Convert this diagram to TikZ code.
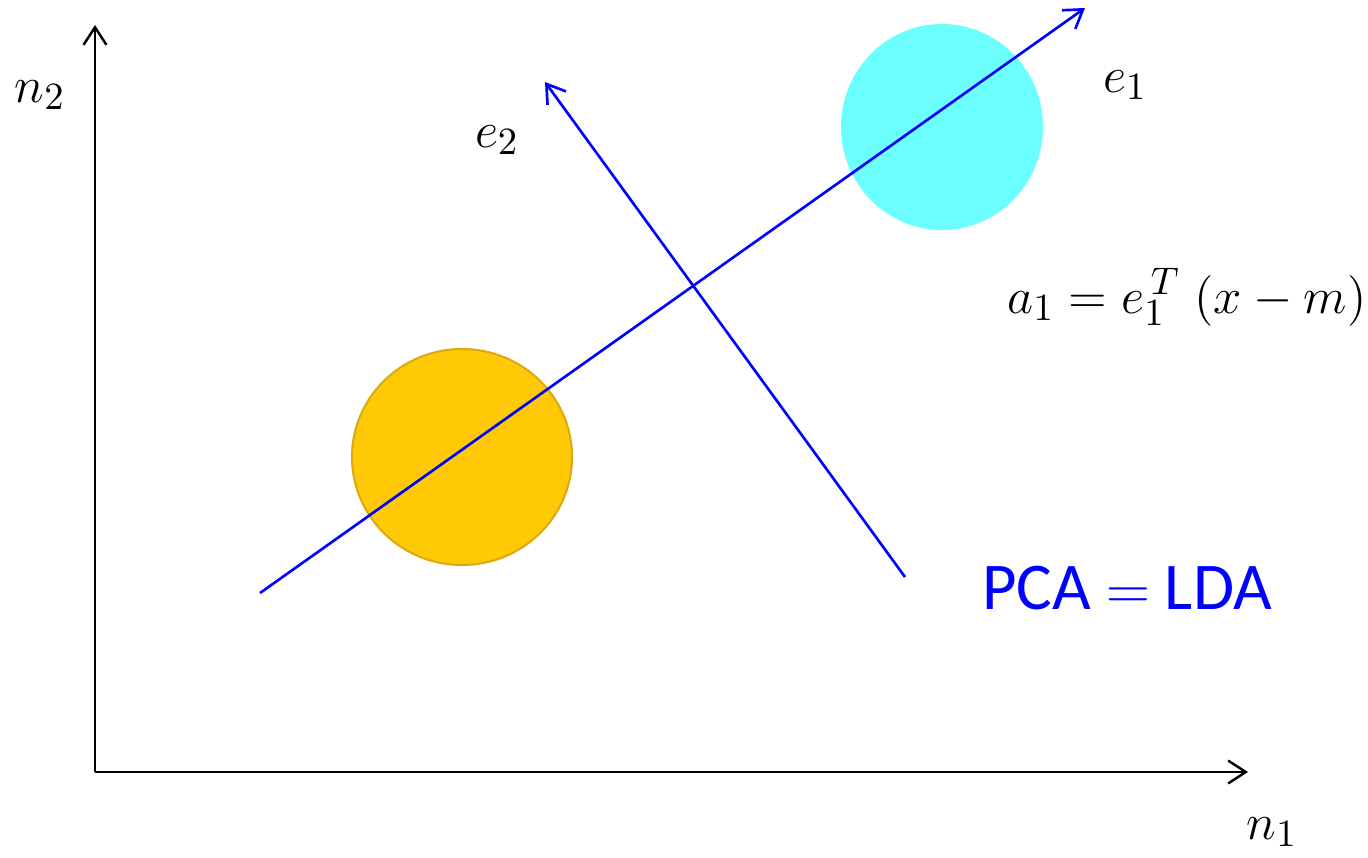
\documentclass[tikz,border=0pt]{standalone}
\usepackage{fontspec}
\newfontfamily\calib{Carlito}
\usetikzlibrary{arrows.meta, positioning, calc}
\definecolor{ldablue}{HTML}{0000FF}
\definecolor{ldacyan}{HTML}{6CFFFF}
\definecolor{ldagold}{HTML}{FFC905}
\definecolor{ldagoldline}{HTML}{DDAA10}

\tikzset{
  axisline/.style={line width=0.7pt, black, -{Straight Barb[length=5pt, width=6.5pt]}},
  dirline/.style={line width=0.75pt, ldablue, -{Straight Barb[length=5pt, width=6.5pt]}},
  mathlbl/.style={font=\fontsize{15}{17}\selectfont},
}

\begin{document}
\begin{tikzpicture}[x=0.01cm, y=0.01cm]
  \useasboundingbox (0,0) rectangle (1368,857);

  % Clusters
  \fill[ldacyan] (942,730) ellipse [x radius=101, y radius=103];
  \filldraw[fill=ldagold, draw=ldagoldline, line width=0.6pt] (462,400) ellipse [x radius=110, y radius=108];

  % Axes
  \coordinate (origin) at (95,85);
  \coordinate (ytip) at (95,832);
  \coordinate (xtip) at (1248,85);
  \draw[axisline] (origin) -- (ytip);
  \draw[axisline] (origin) -- (xtip);
  \node[mathlbl] (n2) at (40,762) {$n_2$};
  \node[mathlbl] (n1) at (1272,25) {$n_1$};

  % Eigen directions
  \coordinate (e1start) at (260,264);
  \coordinate (e1end) at (1085,849);
  \coordinate (e2start) at (905,280);
  \coordinate (e2end) at (545,775);
  \draw[dirline] (e1start) -- (e1end);
  \draw[dirline] (e2start) -- (e2end);
  \node[mathlbl] (e1lbl) at (1125,772) {$e_1$};
  \node[mathlbl] (e2lbl) at (497,717) {$e_2$};

  % Projection
  \node[mathlbl] (proj) at (1187,560) {$a_1 = e_1^{\,T}\;(x - m)$};
  \node[font=\calib\fontsize{19}{22}\selectfont, text=ldablue] (pcalda) at (1127,269) {PCA $=$ LDA};
\end{tikzpicture}
\end{document}
